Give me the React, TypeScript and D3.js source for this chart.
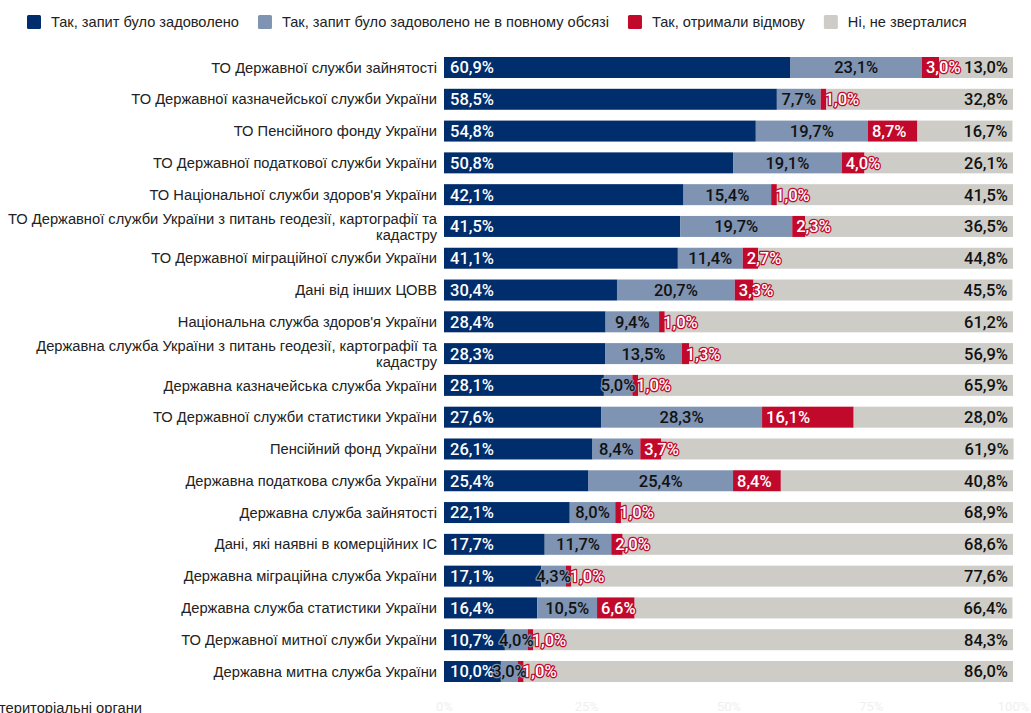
import React, { useRef, useEffect } from 'react';
import * as d3 from 'd3';

const categories = [
  'ТО Державної служби зайнятості',
  'ТО Державної казначейської служби України',
  'ТО Пенсійного фонду України',
  'ТО Державної податкової служби України',
  "ТО Національної служби здоров'я України",
  'ТО Державної служби України з питань геодезії, картографії та|кадастру',
  'ТО Державної міграційної служби України',
  'Дані від інших ЦОВВ',
  "Національна служба здоров'я України",
  'Державна служба України з питань геодезії, картографії та|кадастру',
  'Державна казначейська служба України',
  'ТО Державної служби статистики України',
  'Пенсійний фонд України',
  'Державна податкова служба України',
  'Державна служба зайнятості',
  'Дані, які наявні в комерційних ІС',
  'Державна міграційна служба України',
  'Державна служба статистики України',
  'ТО Державної митної служби України',
  'Державна митна служба України',
];

const satisfied = [60.9, 58.5, 54.8, 50.8, 42.1, 41.5, 41.1, 30.4, 28.4, 28.3, 28.1, 27.6, 26.1, 25.4, 22.1, 17.7, 17.1, 16.4, 10.7, 10.0];
const partly = [23.1, 7.7, 19.7, 19.1, 15.4, 19.7, 11.4, 20.7, 9.4, 13.5, 5.0, 28.3, 8.4, 25.4, 8.0, 11.7, 4.3, 10.5, 4.0, 3.0];
const refused = [3.0, 1.0, 8.7, 4.0, 1.0, 2.3, 2.7, 3.3, 1.0, 1.3, 1.0, 16.1, 3.7, 8.4, 1.0, 2.0, 1.0, 6.6, 1.0, 1.0];
const notApplied = [13.0, 32.8, 16.7, 26.1, 41.5, 36.5, 44.8, 45.5, 61.2, 56.9, 65.9, 28.0, 61.9, 40.8, 68.9, 68.6, 77.6, 66.4, 84.3, 86.0];

const seriesNames = [
  'Так, запит було задоволено',
  'Так, запит було задоволено не в повному обсязі',
  'Так, отримали відмову',
  'Ні, не зверталися',
];
const seriesColors = ['#002d6b', '#7f93b3', '#c1092c', '#cdccc7'];
const labelColors = ['#ffffff', '#111111', '#ffffff', '#111111'];

const axisTicks = [0, 0.25, 0.5, 0.75, 1];
const footnote = 'територіальні органи';

const W = 1031;
const H = 713;

const App: React.FC = () => {
  const ref = useRef<SVGSVGElement>(null);

  useEffect(() => {
    if (!ref.current) return;
    const svg = d3.select(ref.current);
    svg.selectAll('*').remove();

    const labelFont = '"Liberation Sans", Arial, sans-serif';
    const valueFont = 'Roboto, "Noto Sans", sans-serif';

    const x = d3.scaleLinear().domain([0, 100]).range([444, 1013]);
    const y = d3.scaleBand()
      .domain(categories)
      .range([51.6, 687.4])
      .paddingInner(0.34)
      .paddingOuter(0.17);

    const rows = categories.map((c, i) => ({
      cat: c,
      vals: [satisfied[i], partly[i], refused[i], notApplied[i]],
    }));

    // Legend
    const legend = svg.append('g').attr('transform', 'translate(27,22)');
    let cx = 0;
    seriesNames.forEach((name, i) => {
      const g = legend.append('g').attr('transform', `translate(${cx},0)`);
      g.append('rect')
        .attr('x', 0).attr('y', -7)
        .attr('width', 14).attr('height', 14)
        .attr('rx', 1.5)
        .attr('fill', seriesColors[i]);
      const t = g.append('text')
        .attr('x', 24).attr('dy', '0.35em')
        .attr('font-family', labelFont)
        .attr('font-size', 14.6)
        .attr('fill', '#222')
        .text(name);
      const w = (t.node() as SVGTextElement).getComputedTextLength();
      cx += 24 + w + 19;
    });

    // Bars
    const rowG = svg.selectAll('.row')
      .data(rows)
      .enter()
      .append('g')
      .attr('class', 'row')
      .attr('transform', d => `translate(0,${y(d.cat)})`);

    rowG.each(function (d) {
      const g = d3.select(this);
      let acc = 0;
      d.vals.forEach((v, i) => {
        g.append('rect')
          .attr('x', x(acc))
          .attr('y', 0)
          .attr('width', x(acc + v) - x(acc))
          .attr('height', y.bandwidth())
          .attr('fill', seriesColors[i]);
        acc += v;
      });
    });

    // Value labels
    rowG.each(function (d) {
      const g = d3.select(this);
      let acc = 0;
      d.vals.forEach((v, i) => {
        const x0 = x(acc);
        const x1 = x(acc + v);
        let tx = x0 + 6;
        let anchor = 'start';
        if (i === 1) { tx = (x0 + x1) / 2; anchor = 'middle'; }
        if (i === 2) { tx = x0 + 4; }
        if (i === 3) { tx = x1 - 5; anchor = 'end'; }
        g.append('text')
          .attr('x', tx)
          .attr('y', y.bandwidth() / 2)
          .attr('dy', '0.36em')
          .attr('text-anchor', anchor)
          .attr('font-family', valueFont)
          .attr('font-weight', 500)
          .attr('font-size', 16.5)
          .attr('fill', labelColors[i])
          .attr('stroke', seriesColors[i])
          .attr('stroke-width', 2.5)
          .attr('stroke-linejoin', 'round')
          .attr('paint-order', 'stroke')
          .text(v.toFixed(1).replace('.', ',') + '%');
        acc += v;
      });
    });

    // Category labels
    rows.forEach(r => {
      const lines = r.cat.split('|');
      const cy = y(r.cat)! + y.bandwidth() / 2;
      const t = svg.append('text')
        .attr('text-anchor', 'end')
        .attr('font-family', labelFont)
        .attr('font-size', 14.7)
        .attr('fill', '#222');
      lines.forEach((ln, k) => {
        t.append('tspan')
          .attr('x', 437)
          .attr('y', cy + (k - (lines.length - 1) / 2) * 16)
          .attr('dy', '0.35em')
          .text(ln);
      });
    });

    // Axis
    const axis = svg.append('g')
      .attr('transform', 'translate(0,688)')
      .call(d3.axisBottom(x).tickValues(axisTicks.map(t => t * 100)).tickSize(0).tickPadding(14).tickFormat(d => `${d}%`));
    axis.select('.domain').remove();
    axis.selectAll('text')
      .attr('font-family', valueFont)
      .attr('font-size', 13)
      .attr('fill', '#efefef');

    svg.append('text')
      .attr('x', -1)
      .attr('y', 713)
      .attr('font-family', labelFont)
      .attr('font-size', 14.7)
      .attr('fill', '#222')
      .text(footnote);
  }, []);

  return (
    <svg
      ref={ref}
      width={W}
      height={H}
      style={{ position: 'absolute', left: 0, top: 0, background: '#fff' }}
    />
  );
};

export default App;
